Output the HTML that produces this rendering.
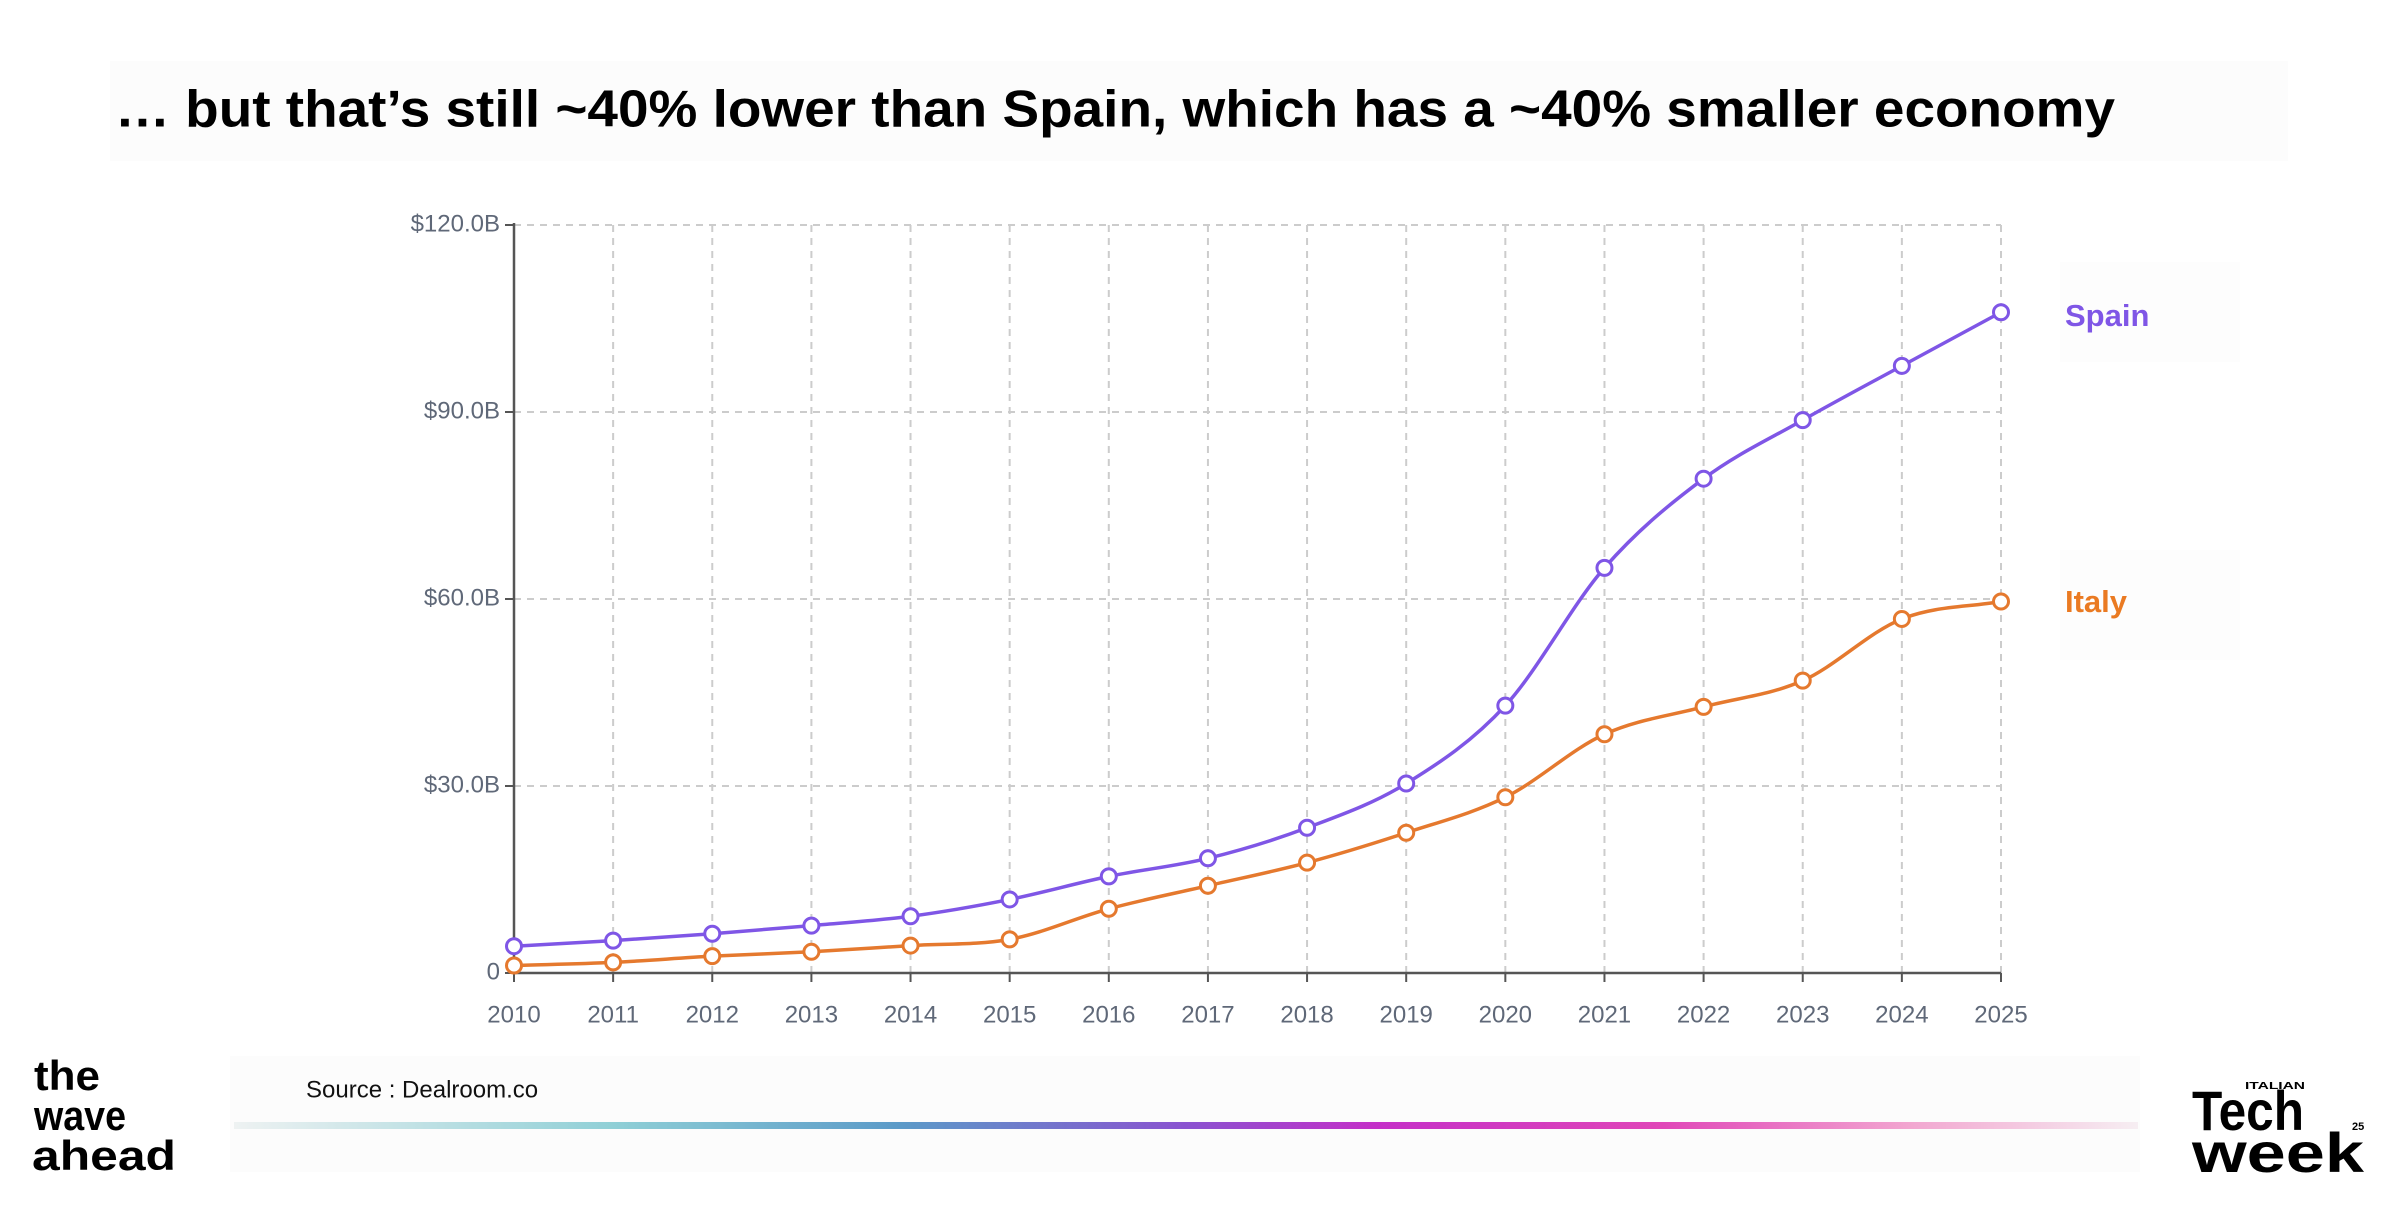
<!DOCTYPE html>
<html><head><meta charset="utf-8"><style>
html,body{margin:0;padding:0;background:#fff;}
body{width:2400px;height:1200px;overflow:hidden;font-family:"Liberation Sans",sans-serif;}
</style></head><body>
<svg id="chart" width="2400" height="1200" viewBox="0 0 2400 1200" xmlns="http://www.w3.org/2000/svg">
  <defs>
    <linearGradient id="grad" x1="0" x2="1" y1="0" y2="0">
      <stop offset="0" stop-color="#eef2f2"/>
      <stop offset="0.2" stop-color="#8fcfd6"/>
      <stop offset="0.35" stop-color="#5b9ac8"/>
      <stop offset="0.5" stop-color="#8a52d0"/>
      <stop offset="0.6" stop-color="#c42fc8"/>
      <stop offset="0.75" stop-color="#e046b8"/>
      <stop offset="0.88" stop-color="#f2a6d0"/>
      <stop offset="1" stop-color="#f6eef2"/>
    </linearGradient>
  </defs>
  <rect x="110" y="61" width="2178" height="100" fill="#fcfcfc"/>
  <text x="115" y="113" font-size="52" font-weight="bold" fill="#000" dominant-baseline="middle" textLength="2000" lengthAdjust="spacingAndGlyphs">… but that’s still ~40% lower than Spain, which has a ~40% smaller economy</text>
  <g id="grid"></g>
  <g id="axes"></g>
  <g id="series"></g>
  <rect x="2060" y="262" width="180" height="100" fill="#fdfdfd"/>
  <text x="2065" y="318" font-size="31" font-weight="bold" fill="#7f56e6" dominant-baseline="middle">Spain</text>
  <rect x="2060" y="550" width="180" height="110" fill="#fdfdfd"/>
  <text x="2065" y="604" font-size="31" font-weight="bold" fill="#ea7a22" dominant-baseline="middle">Italy</text>
  <rect x="230" y="1056" width="1910" height="116" fill="#fcfcfc"/>
  <text x="306" y="1091" font-size="24" fill="#111" dominant-baseline="middle">Source : Dealroom.co</text>
  <rect x="234" y="1122" width="1904" height="7" fill="url(#grad)"/>
  <g font-weight="bold" font-size="42" fill="#000">
    <text x="34" y="1090" textLength="66" lengthAdjust="spacingAndGlyphs">the</text>
    <text x="34" y="1130" textLength="92" lengthAdjust="spacingAndGlyphs">wave</text>
    <text x="32" y="1170" textLength="144" lengthAdjust="spacingAndGlyphs">ahead</text>
  </g>
  <g font-weight="bold" fill="#000">
    <text x="2245" y="1089" font-size="10" textLength="60" lengthAdjust="spacingAndGlyphs">ITALIAN</text>
    <text x="2192" y="1130" font-size="56" textLength="112" lengthAdjust="spacingAndGlyphs">Tech</text>
    <text x="2192" y="1172" font-size="56" textLength="172" lengthAdjust="spacingAndGlyphs">week</text>
    <text x="2352" y="1130" font-size="11">25</text>
  </g>
</svg>
<script>
const years = [2010,2011,2012,2013,2014,2015,2016,2017,2018,2019,2020,2021,2022,2023,2024,2025];
const spainValues = [4.3,5.2,6.3,7.6,9.1,11.8,15.5,18.4,23.3,30.4,42.9,65.0,79.3,88.7,97.4,106.0];
const italyValues = [1.2,1.7,2.7,3.4,4.4,5.4,10.3,14.0,17.7,22.5,28.2,38.3,42.7,46.9,56.8,59.6];
const yTicks = [0,30,60,90,120];
const yTickLabels = ["0","$30.0B","$60.0B","$90.0B","$120.0B"];

const NS = "http://www.w3.org/2000/svg";
const X0 = 514, X1 = 2001, Y0 = 973, Y1 = 225;
function xScale(i){ return X0 + (X1 - X0) * (years[i] - years[0]) / (years[years.length-1] - years[0]); }
function yScale(v){ return Y0 - (Y0 - Y1) * v / 120; }
function mk(tag, attrs, parent){ const e = document.createElementNS(NS, tag); for (const k in attrs) e.setAttribute(k, attrs[k]); parent.appendChild(e); return e; }

const grid = document.getElementById('grid');
const axes = document.getElementById('axes');
const series = document.getElementById('series');

yTicks.forEach((t, i) => {
  const y = yScale(t);
  if (t > 0) {
    const g = mk('line', {x1:X0, x2:X1, y1:y, y2:y, stroke:'#cccccc', 'stroke-width':2, 'stroke-dasharray':'7,6'}, grid);
    
    
  }
  const tk = mk('line', {x1:X0-9, x2:X0, y1:y, y2:y, stroke:'#555', 'stroke-width':2}, axes);
  
  
  const lb = mk('text', {x:X0-14, y:y, 'text-anchor':'end', 'dominant-baseline':'middle', 'font-size':24, fill:'#5f6878'}, axes);
  lb.textContent = yTickLabels[i];
  
  
});
years.forEach((yr, i) => {
  const x = xScale(i);
  if (i > 0) {
    const g = mk('line', {x1:x, x2:x, y1:Y1, y2:Y0, stroke:'#cccccc', 'stroke-width':2, 'stroke-dasharray':'7,6'}, grid);
    
    
  }
  const tk = mk('line', {x1:x, x2:x, y1:Y0, y2:Y0+9, stroke:'#555', 'stroke-width':2}, axes);
  
  
  const lb = mk('text', {x:x, y:1016, 'text-anchor':'middle', 'dominant-baseline':'middle', 'font-size':24, fill:'#5f6878'}, axes);
  lb.textContent = String(yr);
  
  
});
const ya = mk('line', {x1:X0, x2:X0, y1:Y1-2, y2:Y0, stroke:'#555', 'stroke-width':2.5}, axes);


const xa = mk('line', {x1:X0, x2:X1, y1:Y0, y2:Y0, stroke:'#555', 'stroke-width':2.5}, axes);



function monotonePath(pts){
  const n = pts.length, d = [], m = [];
  for (let i=0;i<n-1;i++) d.push((pts[i+1][1]-pts[i][1])/(pts[i+1][0]-pts[i][0]));
  m[0]=d[0]; m[n-1]=d[n-2];
  for (let i=1;i<n-1;i++){ m[i] = (d[i-1]*d[i] <= 0) ? 0 : (d[i-1]+d[i])/2; }
  for (let i=0;i<n-1;i++){ if (d[i]===0){m[i]=0;m[i+1]=0;continue;} const a=m[i]/d[i], b=m[i+1]/d[i], s=a*a+b*b; if (s>9){const t=3/Math.sqrt(s); m[i]=t*a*d[i]; m[i+1]=t*b*d[i];} }
  let p = 'M'+pts[0][0]+','+pts[0][1];
  for (let i=0;i<n-1;i++){ const h=(pts[i+1][0]-pts[i][0])/3;
    p += ' C'+(pts[i][0]+h)+','+(pts[i][1]+m[i]*h)+' '+(pts[i+1][0]-h)+','+(pts[i+1][1]-m[i+1]*h)+' '+pts[i+1][0]+','+pts[i+1][1]; }
  return p;
}
function drawSeries(vals, color, name){
  const pts = vals.map((v,i)=>[xScale(i), yScale(v)]);
  const path = mk('path', {d:monotonePath(pts), fill:'none', stroke:color, 'stroke-width':3.5}, series);
  
  
  pts.forEach(p => {
    const c = mk('circle', {cx:p[0], cy:p[1], r:7.5, fill:'#fff', stroke:color, 'stroke-width':3}, series);
    
    
  });
}
drawSeries(italyValues, '#e5792e', 'italy');
drawSeries(spainValues, '#7f56e6', 'spain');
</script>
</body></html>
